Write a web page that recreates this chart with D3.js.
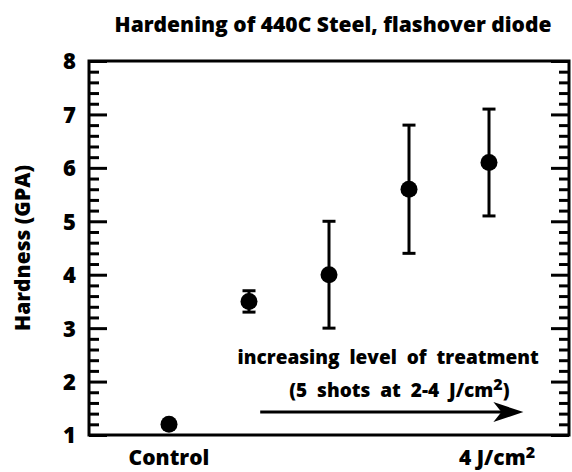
<!DOCTYPE html>
<html>
<head>
<meta charset="utf-8">
<script src="https://cdn.jsdelivr.net/npm/d3@7"></script>
<style>
body { margin: 0; background: #fff; }
text { font-family: "Open Sans", sans-serif; font-weight: 800; fill: #000; }
</style>
</head>
<body>
<svg></svg>
<script>
// Hardening of 440C steel

let svgWidth = 572;
let svgHeight = 472;

let levels = [0, 1, 2, 3, 4];
let hardness = [1.2, 3.5, 4.0, 5.6, 6.1];
let errLow = [null, 3.3, 3.0, 4.4, 5.1];
let errHigh = [null, 3.7, 5.0, 6.8, 7.1];

let xTickPos = [0, 4.1];
let xTickText = ["Control", "4 J/cm"];
let yTicks = [1, 2, 3, 4, 5, 6, 7, 8];

let margin = {top: 61, right: 3, bottom: 37, left: 89};
let w = svgWidth - margin.left - margin.right;
let h = svgHeight - margin.top - margin.bottom;

let svg = d3.select("svg")
	.attr("width", svgWidth)
	.attr("height", svgHeight);

let x = d3.scaleLinear().domain([-1, 5]).range([0, w]);
let y = d3.scaleLinear().domain([1, 8]).range([h, 0]);

let g = svg.append("g")
	.attr("transform", "translate(" + margin.left + "," + margin.top + ")");

// minor ticks every 0.2
let minor = d3.range(1, 8.001, 0.2).filter(function(d) {
	return Math.abs(d - Math.round(d)) > 0.01;
});

function styleAxis(sel) {
	sel.select(".domain").remove();
	sel.selectAll(".tick line").attr("stroke", "#000").attr("stroke-width", 3);
}

// left axis
g.append("g")
	.call(d3.axisLeft(y).tickValues(minor).tickSize(-10).tickFormat(""))
	.call(styleAxis);
g.append("g")
	.call(d3.axisLeft(y).tickValues(yTicks).tickSize(-18).tickPadding(13).tickFormat(d3.format("d")))
	.call(styleAxis)
	.selectAll("text")
	.style("font-size", "22px")
	.attr("dy", "0.36em");

// right axis
let right = g.append("g").attr("transform", "translate(" + w + ",0)");
right.append("g")
	.call(d3.axisRight(y).tickValues(minor).tickSize(-10).tickFormat(""))
	.call(styleAxis);
right.append("g")
	.call(d3.axisRight(y).tickValues(yTicks).tickSize(-18).tickFormat(""))
	.call(styleAxis);

// frame
g.append("rect")
	.attr("width", w)
	.attr("height", h)
	.attr("fill", "none")
	.attr("stroke", "#000")
	.attr("stroke-width", 3);

// x labels
let xl = g.selectAll(".xlab")
	.data(xTickPos)
	.enter()
	.append("text")
	.attr("class", "xlab")
	.attr("x", function(d) { return x(d); })
	.attr("y", h + 30)
	.attr("text-anchor", "middle")
	.style("font-size", "21px")
	.text(function(d, i) { return xTickText[i]; });
xl.filter(function(d, i) { return i == 1; })
	.append("tspan")
	.attr("dy", -7)
	.style("font-size", "16px")
	.text("2");

// error bars
let pts = levels.map(function(d, i) {
	return {x: d, v: hardness[i], lo: errLow[i], hi: errHigh[i]};
});
let eb = g.selectAll(".err")
	.data(pts.filter(function(d) { return d.lo != null; }))
	.enter()
	.append("g")
	.attr("class", "err")
	.attr("stroke", "#000")
	.attr("stroke-width", 3);
eb.append("line")
	.attr("x1", function(d) { return x(d.x); })
	.attr("x2", function(d) { return x(d.x); })
	.attr("y1", function(d) { return y(d.lo); })
	.attr("y2", function(d) { return y(d.hi); });
eb.append("line")
	.attr("x1", function(d) { return x(d.x) - 6.5; })
	.attr("x2", function(d) { return x(d.x) + 6.5; })
	.attr("y1", function(d) { return y(d.lo); })
	.attr("y2", function(d) { return y(d.lo); });
eb.append("line")
	.attr("x1", function(d) { return x(d.x) - 6.5; })
	.attr("x2", function(d) { return x(d.x) + 6.5; })
	.attr("y1", function(d) { return y(d.hi); })
	.attr("y2", function(d) { return y(d.hi); });

// points
g.selectAll(".dot")
	.data(pts)
	.enter()
	.append("circle")
	.attr("class", "dot")
	.attr("cx", function(d) { return x(d.x); })
	.attr("cy", function(d) { return y(d.v); })
	.attr("r", 8.5)
	.attr("fill", "#000");

// annotation
g.append("text")
	.attr("x", x(2.74))
	.attr("y", y(2.33))
	.attr("text-anchor", "middle")
	.style("font-size", "19px")
	.style("word-spacing", "5px")
	.text("increasing level of treatment");
let t2 = g.append("text")
	.attr("x", x(2.88))
	.attr("y", y(1.72))
	.attr("text-anchor", "middle")
	.style("font-size", "19px")
	.style("word-spacing", "5px")
	.text("(5 shots at 2-4 J/cm");
t2.append("tspan").attr("dy", -7).style("font-size", "16px").text("2");
t2.append("tspan").attr("dy", 7).text(")");

// arrow
let ay = y(1.43);
g.append("line")
	.attr("x1", x(1.14))
	.attr("x2", x(4.2))
	.attr("y1", ay)
	.attr("y2", ay)
	.attr("stroke", "#000")
	.attr("stroke-width", 3);
let tip = x(4.43);
g.append("path")
	.attr("d", "M" + tip + "," + ay + "L" + (tip - 30) + "," + (ay - 10) + "L" + (tip - 22) + "," + ay + "L" + (tip - 30) + "," + (ay + 10) + "Z")
	.attr("fill", "#000");

// title and y label
svg.append("text")
	.attr("x", margin.left + w / 2 + 4)
	.attr("y", 32)
	.attr("text-anchor", "middle")
	.style("font-size", "21px")
	.text("Hardening of 440C Steel, flashover diode");

svg.append("text")
	.attr("transform", "translate(30," + (margin.top + h / 2) + ") rotate(-90)")
	.attr("text-anchor", "middle")
	.style("font-size", "21px")
	.text("Hardness (GPA)");
</script>
</body>
</html>
